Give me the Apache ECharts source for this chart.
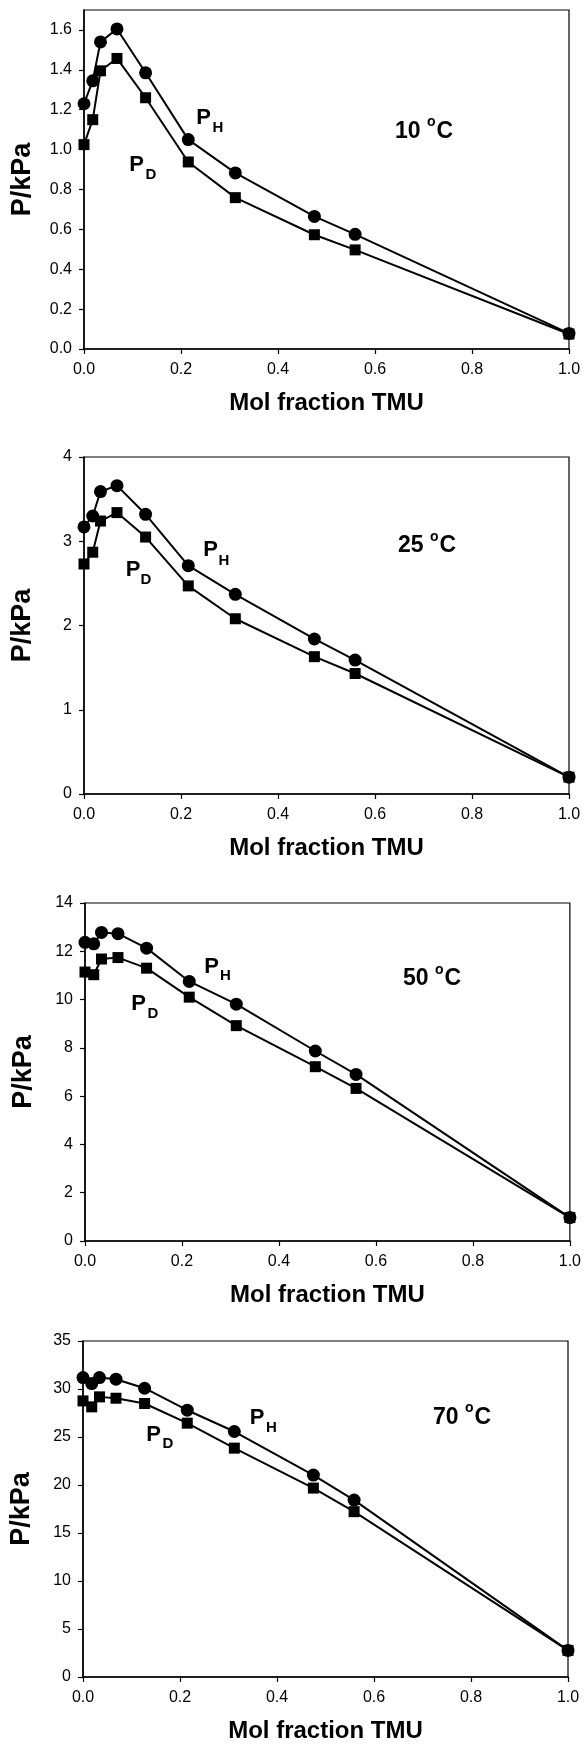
<!DOCTYPE html>
<html><head><meta charset="utf-8">
<script src="https://cdn.jsdelivr.net/npm/echarts@6/dist/echarts.min.js"></script>
<style>html,body{margin:0;padding:0;background:#fff}#c{width:584px;height:1745px}</style>
</head><body><div id="c"></div>
<script>
// ---- data ----
const xFrac = [0, 0.018, 0.034, 0.068, 0.127, 0.215, 0.312, 0.475, 0.559, 1.0];
const pH10 = [1.23, 1.345, 1.54, 1.605, 1.385, 1.05, 0.883, 0.665, 0.575, 0.078];
const pD10 = [1.025, 1.15, 1.395, 1.457, 1.26, 0.938, 0.759, 0.573, 0.497, 0.075];
const pH25 = [3.17, 3.30, 3.59, 3.66, 3.32, 2.71, 2.37, 1.84, 1.59, 0.20];
const pD25 = [2.73, 2.87, 3.24, 3.34, 3.05, 2.47, 2.08, 1.63, 1.43, 0.20];
const pH50 = [12.37, 12.31, 12.78, 12.73, 12.13, 10.75, 9.81, 7.87, 6.90, 0.97];
const pD50 = [11.14, 11.03, 11.68, 11.74, 11.30, 10.10, 8.92, 7.22, 6.32, 0.97];
const pH70 = [31.19, 30.56, 31.19, 31.02, 30.08, 27.79, 25.57, 21.03, 18.43, 2.77];
const pD70 = [28.76, 28.14, 29.18, 29.04, 28.49, 26.44, 23.84, 19.68, 17.22, 2.77];
const xTicks = [0, 0.2, 0.4, 0.6, 0.8, 1.0];
const yTicks10 = [0, 0.2, 0.4, 0.6, 0.8, 1.0, 1.2, 1.4, 1.6];
const yTicks25 = [0, 1, 2, 3, 4];
const yTicks50 = [0, 2, 4, 6, 8, 10, 12, 14];
const yTicks70 = [0, 5, 10, 15, 20, 25, 30, 35];
const temps = ['10', '25', '50', '70'];
const xTitle = 'Mol fraction TMU';
const yTitle = 'P/kPa';

// ---- layout ----
const FONT = '"Liberation Sans", Arial, sans-serif';
const panels = [
  {left: 84, top: 10,   width: 485, height: 339, ymax: 1.7, ticks: yTicks10, dec: 1, H: pH10, D: pD10,
   ph: [203.5, 117.5, 218, 128], pd: [136.5, 165, 151, 175], t: [395, 131.5]},
  {left: 84, top: 457,  width: 485, height: 337, ymax: 4,   ticks: yTicks25, dec: 0, H: pH25, D: pD25,
   ph: [210.5, 550, 224, 561], pd: [133, 570, 146, 580], t: [398, 546]},
  {left: 85, top: 903,  width: 485, height: 338, ymax: 14,  ticks: yTicks50, dec: 0, H: pH50, D: pD50,
   ph: [211.5, 966.5, 225.5, 976], pd: [138.5, 1003.5, 153, 1014], t: [403, 979]},
  {left: 83, top: 1341, width: 485, height: 336, ymax: 35,  ticks: yTicks70, dec: 0, H: pH70, D: pD70,
   ph: [257, 1417.5, 271.5, 1428], pd: [153.5, 1434.5, 168, 1444], t: [433, 1417.5]}
];

const mctx = document.createElement('canvas').getContext('2d');
function tw(txt, font) { mctx.font = font; return mctx.measureText(txt).width; }

const grid = [], xAxis = [], yAxis = [], series = [], graphic = [];
panels.forEach((p, i) => {
  grid.push({left: p.left, top: p.top, width: p.width, height: p.height,
    show: true, borderColor: '#000', borderWidth: 1.2, backgroundColor: 'transparent'});
  xAxis.push({type: 'value', gridIndex: i, min: 0, max: 1, interval: 0.2,
    name: xTitle, nameLocation: 'middle', nameGap: 42,
    nameTextStyle: {fontFamily: FONT, fontWeight: 'bold', fontSize: 24, color: '#000'},
    axisLine: {show: true, onZero: false, lineStyle: {color: '#000', width: 1.5}},
    axisTick: {show: true, inside: false, length: 5, lineStyle: {color: '#000', width: 1.2}},
    axisLabel: {show: true, margin: 13, fontFamily: FONT, fontSize: 16, color: '#000',
      formatter: v => v.toFixed(1)},
    splitLine: {show: false}});
  yAxis.push({type: 'value', gridIndex: i, min: 0, max: p.ymax,
    name: yTitle, nameLocation: 'middle', nameGap: 48, nameRotate: 90,
    nameTextStyle: {fontFamily: FONT, fontWeight: 'bold', fontSize: 27, color: '#000'},
    axisLine: {show: true, onZero: false, lineStyle: {color: '#000', width: 1.5}},
    axisTick: {show: true, inside: false, length: 5, customValues: p.ticks, lineStyle: {color: '#000', width: 1.2}},
    axisLabel: {show: true, margin: 12, fontFamily: FONT, fontSize: 16, color: '#000', customValues: p.ticks,
      formatter: v => v.toFixed(p.dec)},
    splitLine: {show: false}});
  series.push({type: 'line', xAxisIndex: i, yAxisIndex: i, name: 'PD ' + temps[i],
    data: xFrac.map((x, k) => [x, p.D[k]]), symbol: 'rect', symbolSize: 11,
    lineStyle: {color: '#000', width: 2}, itemStyle: {color: '#000'}, z: 3});
  series.push({type: 'line', xAxisIndex: i, yAxisIndex: i, name: 'PH ' + temps[i],
    data: xFrac.map((x, k) => [x, p.H[k]]), symbol: 'circle', symbolSize: 13,
    lineStyle: {color: '#000', width: 2}, itemStyle: {color: '#000'}, z: 4});

  const big = 'bold 22px ' + FONT, small = 'bold 15px ' + FONT;
  const txt = (s, x, y, font, align) => graphic.push({type: 'text', x: x, y: y, z: 10,
    style: {text: s, font: font, fill: '#000', textAlign: align || 'center', textVerticalAlign: 'middle'}});
  txt('P', p.ph[0], p.ph[1], big); txt('H', p.ph[2], p.ph[3], small);
  txt('P', p.pd[0], p.pd[1], big); txt('D', p.pd[2], p.pd[3], small);
  const tf = 'bold 23px ' + FONT, sf = 'bold 14px ' + FONT;
  const a = temps[i] + ' ';
  let x0 = p.t[0];
  txt(a, x0, p.t[1], tf, 'left');
  x0 += tw(a, tf);
  txt('o', x0, p.t[1] - 9, sf, 'left');
  x0 += tw('o', sf) + 1;
  txt('C', x0, p.t[1], tf, 'left');
});

const chart = echarts.init(document.getElementById('c'), null, {renderer: 'canvas'});
chart.setOption({animation: false, backgroundColor: '#fff', grid, xAxis, yAxis, series, graphic});
</script></body></html>
